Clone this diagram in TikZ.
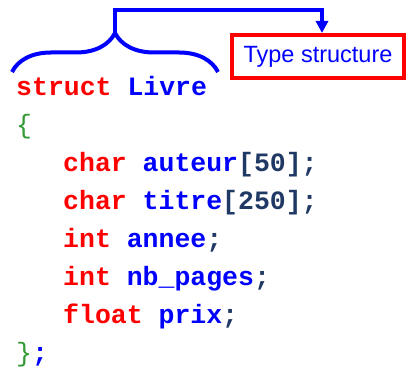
\documentclass[tikz,border=0pt]{standalone}
\usepackage{fontspec}
\setmainfont{Liberation Sans}
\setmonofont{Liberation Mono}
\usetikzlibrary{arrows.meta,positioning,decorations.pathreplacing}
\definecolor{KeyRed}{HTML}{FF0000}
\definecolor{NameBlue}{HTML}{0000FF}
\definecolor{Navy}{HTML}{1F3864}
\definecolor{BraceGreen}{HTML}{339933}
\newcommand{\kw}[1]{\textcolor{KeyRed}{#1}}
\newcommand{\nm}[1]{\textcolor{NameBlue}{#1}}
\newcommand{\pn}[1]{\textcolor{Navy}{#1}}
\newcommand{\gb}[1]{\textcolor{BraceGreen}{\mdseries#1}}
\tikzset{codeline/.style={anchor=base west,inner sep=0pt,font=\ttfamily\bfseries\fontsize{26.5}{30}\selectfont},typebox/.style={rectangle,draw=KeyRed,line width=4pt,minimum width=172pt,minimum height=43pt,inner sep=0pt,text=NameBlue,font=\fontsize{23.5}{26}\selectfont},bracket/.style={draw=NameBlue,line width=4pt,decorate,decoration={brace,amplitude=39pt}},link/.style={draw=NameBlue,line width=4pt,-{Triangle[length=12pt,width=12pt]}}}
\begin{document}
\begin{tikzpicture}[x=1pt,y=1pt]
\fill[white] (0,0) rectangle (408,369);
\useasboundingbox (0,0) rectangle (408,369);
% the declaration, one node per line
\node[codeline] (l1) at (16,273) {\kw{struct} \nm{Livre}};
\node[codeline] (l2) at (16,235) {\gb{\{}};
\node[codeline] (l3) at (63,197) {\kw{char} \nm{auteur}\pn{[50];}};
\node[codeline] (l4) at (63,159) {\kw{char} \nm{titre}\pn{[250];}};
\node[codeline] (l5) at (63,121) {\kw{int} \nm{annee}\pn{;}};
\node[codeline] (l6) at (63,83) {\kw{int} \nm{nb\_pages}\pn{;}};
\node[codeline] (l7) at (63,45) {\kw{float} \nm{prix}\pn{;}};
\node[codeline] (l8) at (16,7) {\gb{\}}\nm{;}};
% brace over the type name and the label box
\draw[bracket] (12,297) -- (218,297);
\coordinate (tip) at (115,336);
\node[typebox] (type) at (318,312.5) {Type structure};
\coordinate (drop) at (322,0);
\draw[link] (tip) -- ++(0,23) -| (drop |- type.north);
\end{tikzpicture}
\end{document}
